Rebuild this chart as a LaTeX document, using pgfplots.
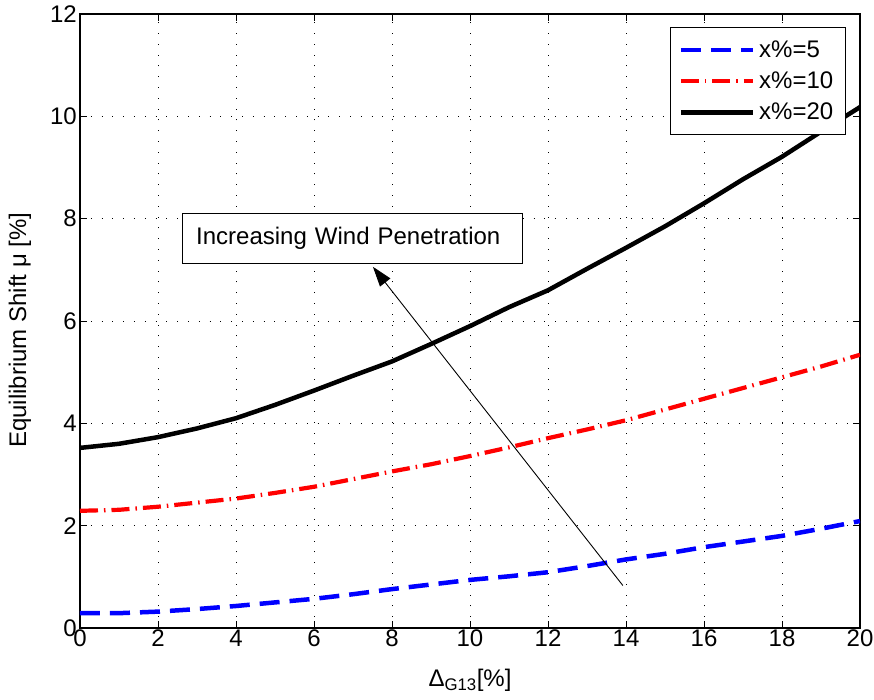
\documentclass[border=0pt]{standalone}
\usepackage{pgfplots}
\pgfplotsset{compat=1.18}
\usepackage{fontspec}
\setmainfont{Liberation Sans}
\usetikzlibrary{arrows.meta}

\pgfplotstableread{
x    y5    y10   y20
0    0.29  2.29  3.52
1    0.29  2.31  3.60
2    0.32  2.37  3.73
3    0.37  2.45  3.90
4    0.43  2.53  4.10
5    0.50  2.64  4.36
6    0.57  2.76  4.64
7    0.66  2.91  4.93
8    0.76  3.06  5.21
9    0.85  3.20  5.55
10   0.94  3.36  5.90
11   1.01  3.53  6.27
12   1.09  3.71  6.60
13   1.21  3.88  7.02
14   1.34  4.06  7.43
15   1.45  4.27  7.85
16   1.58  4.48  8.30
17   1.69  4.69  8.77
18   1.80  4.90  9.21
19   1.94  5.11  9.70
20   2.09  5.34  10.18
}\shiftdata

\newcommand\lblfont{\fontsize{24bp}{28bp}\selectfont}

\begin{document}
\begin{tikzpicture}
\useasboundingbox (-80bp,-72bp) rectangle (794bp,628bp);
\begin{axis}[
  at={(0bp,0bp)}, anchor=south west,
  scale only axis,
  width=780bp, height=614bp,
  xmin=0, xmax=20, ymin=0, ymax=12,
  xtick={0,2,...,20}, ytick={0,2,...,12},
  tick align=inside,
  major tick length=7bp,
  tick style={black, line width=0.8bp},
  axis line style={black, line width=1.2bp},
  grid=major,
  major grid style={black, line width=0.8bp, dash pattern=on 0.9bp off 9.9bp},
  /pgf/number format/assume math mode=true,
  tick label style={font=\lblfont},
  xticklabel style={inner sep=2bp},
  yticklabel style={inner sep=3bp},
  label style={font=\lblfont},
  xlabel={Δ\textsubscript{G13}[\%]},
  ylabel={Equilibrium Shift μ [\%]},
  xlabel style={at={(axis description cs:0.5,-0.096)}, anchor=base},
  ylabel style={at={(axis description cs:-0.077,0.485)}, anchor=center},
  legend cell align=left,
  legend image code/.code={\draw[#1] (0bp,0bp) -- (72bp,0bp);},
  legend style={
    at={(axis description cs:0.9817,0.9783)}, anchor=north east,
    draw=black, line width=1bp, fill=white,
    font=\lblfont,
    inner xsep=8bp, inner ysep=11bp,
    row sep=9bp,
    nodes={inner xsep=4bp, inner ysep=2bp},
  },
]
\addplot[blue, line width=4.5bp, dash pattern=on 20bp off 10bp] table[x=x, y=y5] {\shiftdata};
\addlegendentry{x\%=5}
\addplot[red, line width=4.2bp, dash pattern=on 18bp off 6bp on 1.5bp off 6bp] table[x=x, y=y10] {\shiftdata};
\addlegendentry{x\%=10}
\addplot[black, line width=4.5bp] table[x=x, y=y20] {\shiftdata};
\addlegendentry{x\%=20}

% annotation: arrow and text box
\draw[black, line width=0.9bp, -{Triangle[length=20bp, width=13bp]}]
  (axis cs:13.92,0.83) -- (axis cs:7.51,7.06);
\node[draw=black, line width=1.1bp, fill=white, font=\lblfont,
      minimum width=340bp, minimum height=50bp, text width=312bp, align=left,
      inner xsep=14bp]
  at (axis cs:6.98,7.61) {Increasing Wind Penetration};
\end{axis}
\end{tikzpicture}
\end{document}
